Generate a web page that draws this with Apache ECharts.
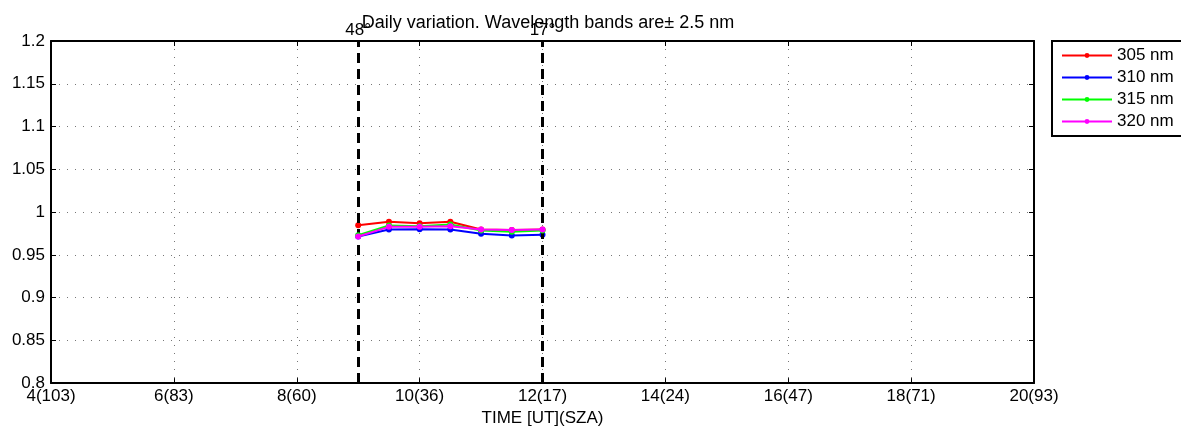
<!DOCTYPE html>
<html>
<head>
<meta charset="utf-8">
<script src="https://cdn.jsdelivr.net/npm/echarts@6/dist/echarts.min.js"></script>
<style>html,body{margin:0;padding:0;background:#fff;}#c{width:1181px;height:432px;}</style>
</head>
<body>
<div id="c"></div>
<script>
// ---- data ----
var times = [9, 9.5, 10, 10.5, 11, 11.5, 12];
var s305 = [0.9846, 0.9886, 0.9870, 0.9886, 0.9796, 0.9790, 0.9796];
var s310 = [0.9714, 0.9796, 0.9800, 0.9796, 0.9745, 0.9726, 0.9734];
var s315 = [0.9730, 0.9843, 0.9834, 0.9854, 0.9784, 0.9770, 0.9784];
var s320 = [0.9714, 0.9827, 0.9827, 0.9834, 0.9796, 0.9790, 0.9796];
var seriesNames = ['305 nm', '310 nm', '315 nm', '320 nm'];
var seriesColors = ['#ff0000', '#0000ff', '#00ff00', '#ff00ff'];
var xTickValues = [4, 6, 8, 10, 12, 14, 16, 18, 20];
var xTickLabels = ['4(103)', '6(83)', '8(60)', '10(36)', '12(17)', '14(24)', '16(47)', '18(71)', '20(93)'];
var yTickLabels = ['0.8', '0.85', '0.9', '0.95', '1', '1.05', '1.1', '1.15', '1.2'];
var szaMarkTimes = [9, 12];
var szaMarkLabels = ['48°', '17°'];
var titleText = 'Daily variation. Wavelength bands are\u00B1 2.5 nm';
var xAxisName = 'TIME [UT](SZA)';

var FONT = '"Liberation Sans", Arial, Helvetica, sans-serif';
var FS = 17;

function pairs(ys) { return times.map(function (t, i) { return [t, ys[i]]; }); }
var allSeries = [s305, s310, s315, s320];

var series = allSeries.map(function (ys, k) {
  return {
    name: seriesNames[k],
    type: 'line',
    data: pairs(ys),
    symbol: 'circle',
    symbolSize: 6,
    showSymbol: true,
    color: seriesColors[k],
    lineStyle: { width: 2, color: seriesColors[k] },
    itemStyle: { color: seriesColors[k] },
    z: 3 + k,
    animation: false
  };
});
series[0].markLine = {
  silent: true,
  symbol: ['none', 'none'],
  animation: false,
  lineStyle: { color: '#000', width: 3, type: [10, 6] },
  label: { show: true, position: 'end', distance: 2, color: '#000', fontSize: FS, fontFamily: FONT },
  data: szaMarkTimes.map(function (t, i) {
    return { xAxis: t, label: { formatter: szaMarkLabels[i] } };
  })
};

var chart = echarts.init(document.getElementById('c'), null, { renderer: 'canvas' });
var gridDotted = { show: true, lineStyle: { color: '#777', width: 1, type: [1, 7] } };
chart.setOption({
  animation: false,
  backgroundColor: '#fff',
  title: {
    text: titleText,
    left: 543, top: 9, textAlign: 'center',
    textStyle: { fontSize: 18, fontWeight: 'normal', color: '#000', fontFamily: FONT }
  },
  legend: {
    orient: 'vertical',
    left: 1052, top: 41,
    padding: [6, 60, 6, 9],
    itemGap: 5,
    itemWidth: 50, itemHeight: 6,
    borderColor: '#000', borderWidth: 2,
    backgroundColor: '#fff',
    textStyle: { fontSize: FS, color: '#000', fontFamily: FONT },
    data: seriesNames
  },
  grid: { left: 51, top: 41, right: 147, bottom: 48, show: false },
  xAxis: [{
    type: 'value', min: 4, max: 20, interval: 2,
    name: xAxisName, nameLocation: 'middle', nameGap: 17,
    nameTextStyle: { fontSize: FS, color: '#000', fontFamily: FONT },
    axisLine: { show: true, onZero: false, lineStyle: { color: '#000', width: 2 } },
    axisTick: { show: true, inside: true, length: 5, lineStyle: { color: '#000', width: 1 } },
    axisLabel: {
      margin: 5, fontSize: FS, color: '#000', fontFamily: FONT,
      formatter: function (v) { var i = xTickValues.indexOf(Math.round(v)); return i >= 0 ? xTickLabels[i] : ''; }
    },
    splitLine: gridDotted
  }, {
    type: 'value', min: 4, max: 20, interval: 2, position: 'top',
    axisLine: { show: true, onZero: false, lineStyle: { color: '#000', width: 2 } },
    axisTick: { show: true, inside: true, length: 5, lineStyle: { color: '#000', width: 1 } },
    axisLabel: { show: false }, splitLine: { show: false }
  }],
  yAxis: [{
    type: 'value', min: 0.8, max: 1.2, interval: 0.05,
    axisLine: { show: true, onZero: false, lineStyle: { color: '#000', width: 2 } },
    axisTick: { show: true, inside: true, length: 5, lineStyle: { color: '#000', width: 1 } },
    axisLabel: {
      margin: 6, fontSize: FS, color: '#000', fontFamily: FONT,
      formatter: function (v) { var i = Math.round((v - 0.8) / 0.05); return yTickLabels[i] || ''; }
    },
    splitLine: gridDotted
  }, {
    type: 'value', min: 0.8, max: 1.2, interval: 0.05, position: 'right',
    axisLine: { show: true, onZero: false, lineStyle: { color: '#000', width: 2 } },
    axisTick: { show: true, inside: true, length: 5, lineStyle: { color: '#000', width: 1 } },
    axisLabel: { show: false }, splitLine: { show: false }
  }],
  series: series
});
</script>
</body>
</html>
